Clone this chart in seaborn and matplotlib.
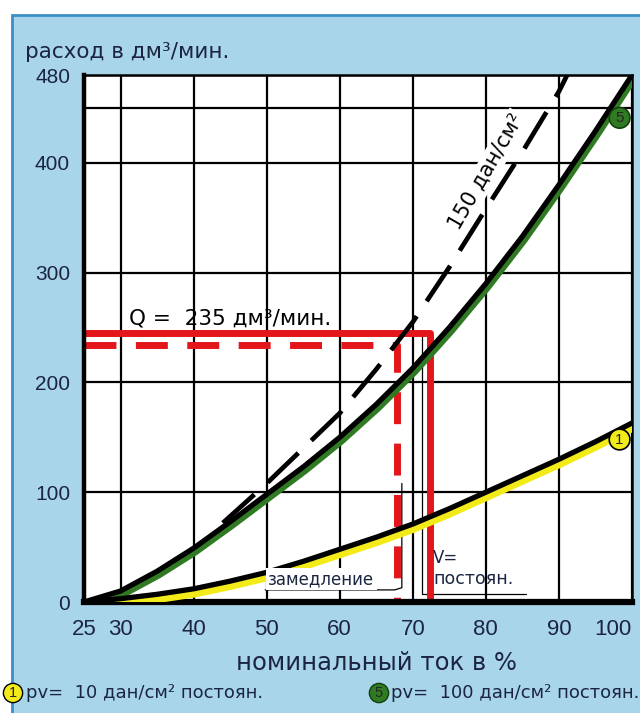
import matplotlib
matplotlib.use('Agg')
import matplotlib.pyplot as plt
import matplotlib.patheffects as pe
from matplotlib.patches import Rectangle
import seaborn as sns

# значения
tok = [25, 30, 35, 40, 45, 50, 55, 60, 65, 70, 75, 80, 85, 90, 95, 100]
rashod_5 = [0, 10, 28, 49, 73, 98, 123, 150, 180, 213, 250, 290, 333, 380, 429, 480]
rashod_1 = [0, 3, 7, 12, 19, 27, 37, 48, 59, 71, 85, 100, 115, 130, 146, 163]

tok_150 = [44, 50, 55, 60, 65, 70, 75, 80, 85, 90, 91.5]
rashod_150 = [72, 108, 140, 172, 212, 255, 305, 358, 410, 465, 485]

# линии Q
q_tok = [25, 72.3, 72.3]
q_rashod = [245, 245, 0]
q2_tok = [25, 67.8, 67.8]
q2_rashod = [234, 234, 0]

x_ticks = [25, 30, 40, 50, 60, 70, 80, 90, 100]
y_ticks = [0, 100, 200, 300, 400, 480]
x_labels = ['25', '30', '40', '50', '60', '70', '80', '90', '100']
y_labels = ['0', '100', '200', '300', '400', '480']

sns.set_style('white')
plt.rcParams['font.family'] = ['Liberation Sans', 'DejaVu Sans']

navy = '#1b2540'
yellow = '#f3ea1a'
green = '#2f7a22'
red = '#e3161c'
wide = ['DejaVu Sans']

fig = plt.figure(figsize=(6.4, 7.13), dpi=100, facecolor='white')
# голубой фон
fig.patches.append(Rectangle((12 / 640, -0.01), 1.0, (713 - 15) / 713 + 0.01,
                             transform=fig.transFigure, facecolor='#a9d5ea',
                             edgecolor='#3b8fc9', lw=2, zorder=-1))

ax = fig.add_axes([84 / 640, 1 - 602 / 713, (632 - 84) / 640, (602 - 75) / 713])
ax.set_zorder(1)
ax.set_facecolor('white')

# кривая 5 (зелёная) и кривая 1 (жёлтая)
sns.lineplot(x=tok, y=rashod_5, ax=ax, color='black', lw=3.8, zorder=3,
             path_effects=[pe.Stroke(linewidth=4.5, foreground=green, offset=(1.5, -2.8)),
                           pe.Normal()])
sns.lineplot(x=tok, y=rashod_1, ax=ax, color='black', lw=3.8, zorder=3,
             path_effects=[pe.Stroke(linewidth=5, foreground=yellow, offset=(0.5, -3.8)),
                           pe.Normal()])

# 150 дан/см2
sns.lineplot(x=tok_150, y=rashod_150, ax=ax, color='black', lw=3.4, zorder=3,
             linestyle=(0, (9, 3.8)))

# Q = 235
sns.lineplot(x=q_tok, y=q_rashod, ax=ax, color=red, lw=5, sort=False, estimator=None,
             zorder=2.5)
sns.lineplot(x=q2_tok, y=q2_rashod, ax=ax, color=red, lw=5, sort=False, estimator=None,
             zorder=2.5, linestyle=(0, (4.6, 2.8)))

# тонкие выноски
ax.plot([49.8, 67.5, 68.5, 68.5], [11, 11, 13, 108], color='black', lw=0.9, zorder=2)
ax.plot([85.5, 71.2, 71.2], [7, 7, 245], color='black', lw=0.9, zorder=2)

ax.set_xlim(25, 100)
ax.set_ylim(0, 480)
ax.set_xticks(x_ticks)
ax.set_xticklabels(x_labels)
ax.set_yticks(y_ticks)
ax.set_yticklabels(y_labels)
ax.set_yticks([450], minor=True)
ax.tick_params(which='both', length=0)
ax.tick_params(axis='x', pad=12, labelsize=16, labelcolor=navy)
ax.tick_params(axis='y', pad=10, labelsize=15, labelcolor=navy)
ax.get_xticklabels()[-1].set_ha('right')
ax.set_xlabel('')
ax.set_ylabel('')
ax.grid(True, which='both', color='black', lw=1.6)
ax.set_axisbelow(True)

for side, w in [('left', 3.2), ('bottom', 4.5), ('top', 1.8), ('right', 1.8)]:
    ax.spines[side].set_visible(True)
    ax.spines[side].set_color('black')
    ax.spines[side].set_linewidth(w)

# подписи
ax.text(31.2, 249, 'Q =  235 дм³/мин.', fontsize=15.5, color='black', va='bottom',
        zorder=4, family=wide)
ax.text(80.1, 392, '150 дан/см²', fontsize=15, rotation=60, ha='center', va='center',
        color='black', zorder=1.5, family=wide,
        bbox=dict(boxstyle='square,pad=0.1', fc='white', ec='none'))
ax.text(57.5, 21, 'замедление', fontsize=12, ha='center', va='center', color=navy,
        zorder=5, family=wide, bbox=dict(boxstyle='square,pad=0.12', fc='white', ec='none'))
ax.text(72.8, 40, 'V=', fontsize=12, ha='left', va='center', color=navy, zorder=5,
        family=wide)
ax.text(72.8, 21, 'постоян.', fontsize=12.5, ha='left', va='center', color=navy, zorder=5,
        family=wide)

ax.text(98.3, 148, '1', fontsize=11, ha='center', va='center', zorder=6,
        bbox=dict(boxstyle='circle,pad=0.22', fc=yellow, ec='black', lw=1.2))
ax.text(98.3, 441, '5', fontsize=11, ha='center', va='center', zorder=6,
        bbox=dict(boxstyle='circle,pad=0.22', fc=green, ec='#14400f', lw=1.2))

fig.text(25 / 640, 1 - 52 / 713, 'расход в дм³/мин.', fontsize=15.5, color=navy,
         ha='left', va='center', family=wide)
fig.text(376 / 640, 1 - 663 / 713, 'номинальный ток в %', fontsize=17.5, color=navy,
         ha='center', va='center', family=wide)

fig.text(13 / 640, 1 - 693 / 713, '1', fontsize=10.5, ha='center', va='center',
         bbox=dict(boxstyle='circle,pad=0.18', fc=yellow, ec='black', lw=1))
fig.text(26 / 640, 1 - 693 / 713, 'pv=  10 дан/см² постоян.', fontsize=13, color=navy,
         ha='left', va='center', family=wide)
fig.text(379 / 640, 1 - 693 / 713, '5', fontsize=10.5, ha='center', va='center',
         bbox=dict(boxstyle='circle,pad=0.18', fc=green, ec='#14400f', lw=1))
fig.text(391 / 640, 1 - 693 / 713, 'pv=  100 дан/см² постоян.', fontsize=13, color=navy,
         ha='left', va='center', family=wide)

fig.savefig('out.png', dpi=100, facecolor=fig.get_facecolor())
